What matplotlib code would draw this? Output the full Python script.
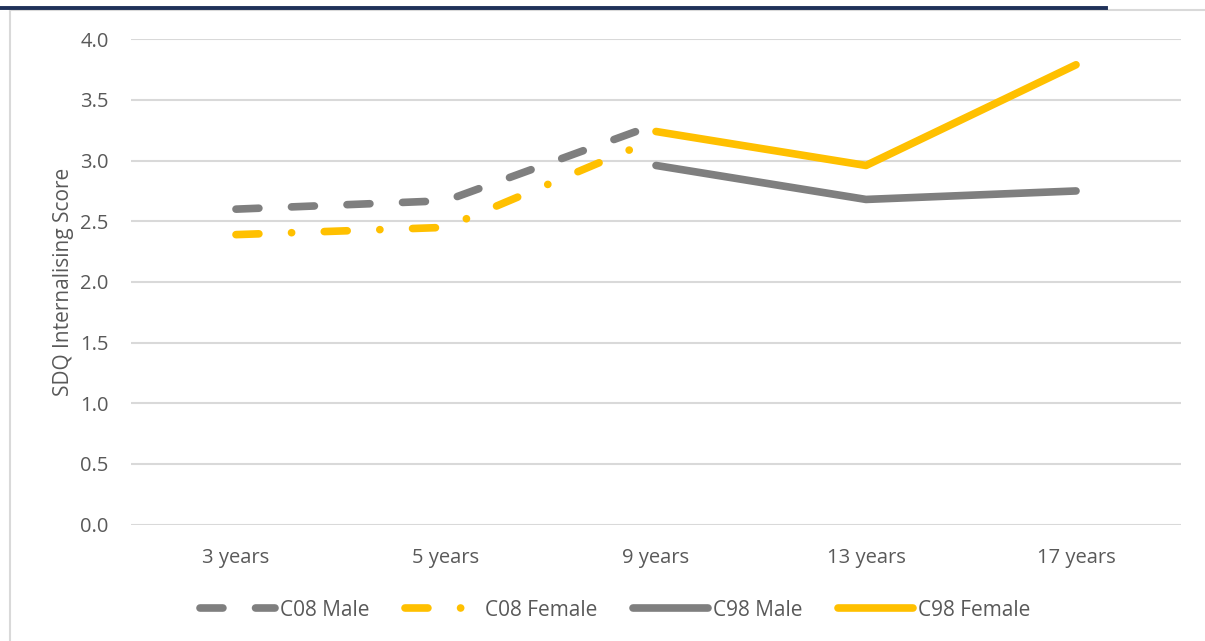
import matplotlib
matplotlib.use("Agg")
import numpy as np
from matplotlib import pyplot as plt
from matplotlib.lines import Line2D

AGES = ["3 years", "5 years", "9 years", "13 years", "17 years"]
C08_MALE = [2.60, 2.67, 3.30, np.nan, np.nan]
C08_FEMALE = [2.39, 2.45, 3.18, np.nan, np.nan]
C98_MALE = [np.nan, np.nan, 2.96, 2.68, 2.75]
C98_FEMALE = [np.nan, np.nan, 3.24, 2.96, 3.79]
Y_TICKS = [0.0, 0.5, 1.0, 1.5, 2.0, 2.5, 3.0, 3.5, 4.0]

GREY = "#7F7F7F"
GOLD = "#FFC000"
TEXT = "#595959"

plt.rcParams["font.family"] = ["Open Sans", "DejaVu Sans"]
plt.rcParams["lines.scale_dashes"] = False

fig = plt.figure(figsize=(12.05, 6.41), dpi=100)
ax = fig.add_axes([0.1087, 0.1816, 0.8714, 0.7571])

x = np.arange(len(AGES))
lw = 5.5
ax.plot(x, C08_MALE, color=GREY, lw=lw, dash_capstyle="round",
        solid_capstyle="round", dashes=(16.5, 23.5), label="C08 Male")
ax.plot(x, C08_FEMALE, color=GOLD, lw=lw, dash_capstyle="round",
        solid_capstyle="round", dashes=(16.5, 23.5, 0.1, 23.5), label="C08 Female")
ax.plot(x, C98_MALE, color=GREY, lw=lw, solid_capstyle="round",
        solid_joinstyle="round", label="C98 Male")
ax.plot(x, C98_FEMALE, color=GOLD, lw=lw, solid_capstyle="round",
        solid_joinstyle="round", label="C98 Female")

ax.set_xlim(-0.5, len(AGES) - 0.5)
ax.set_ylim(0, 4.0)
ax.set_yticks(Y_TICKS)
ax.set_yticklabels(["{:.1f}".format(v) for v in Y_TICKS])
ax.set_xticks(x)
ax.set_xticklabels(AGES)
ax.yaxis.grid(True, color="#D9D9D9", lw=1.5)
ax.set_axisbelow(True)
for spine in ax.spines.values():
    spine.set_visible(False)
ax.tick_params(axis="both", length=0, labelsize=14.5, labelcolor=TEXT)
ax.tick_params(axis="y", pad=16)
ax.tick_params(axis="x", pad=16.5)
ax.set_ylabel("SDQ Internalising Score", fontsize=15, color=TEXT, labelpad=4.5)

fig.legend(loc="center", bbox_to_anchor=(615 / 1205, 1 - 610 / 641), ncol=4,
           frameon=False, fontsize=15, handlelength=3.6, handletextpad=0.25,
           columnspacing=1.7, labelcolor=TEXT)

# outer frame and the clipped header bar
fig.add_artist(Line2D([9.5 / 1205, 9.5 / 1205], [0, 1 - 10 / 641],
                      transform=fig.transFigure, color="#D9D9D9", lw=1.5))
fig.add_artist(Line2D([9.5 / 1205, 1], [1 - 10 / 641, 1 - 10 / 641],
                      transform=fig.transFigure, color="#D9D9D9", lw=1.5))
fig.add_artist(Line2D([0, 1106 / 1205], [1 - 7.5 / 641, 1 - 7.5 / 641],
                      transform=fig.transFigure, color="#1F3159", lw=2.8))

fig.savefig("out.png", dpi=100)
